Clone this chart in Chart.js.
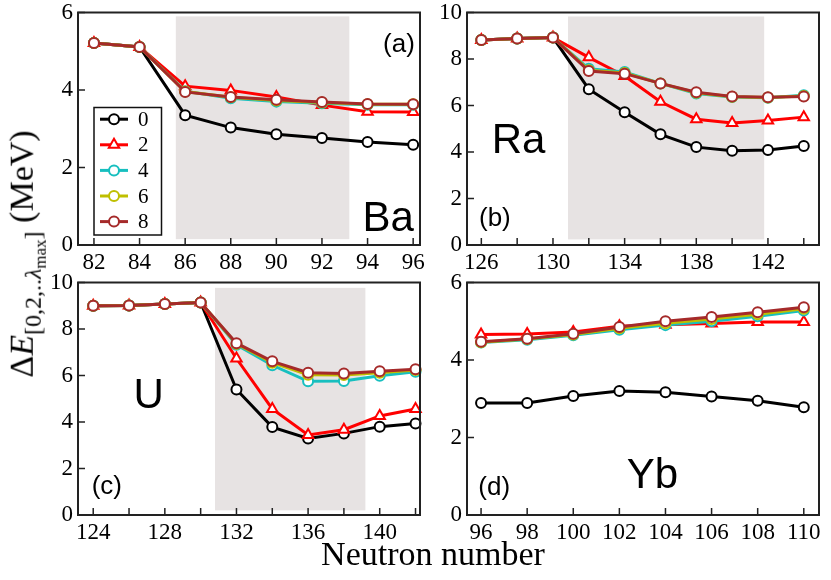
<!DOCTYPE html>
<html><head><meta charset="utf-8">
<script src="https://cdn.jsdelivr.net/npm/chart.js@4"></script>
<style>
body{margin:0;background:#fff;}
#wrap{position:relative;width:831px;height:580px;overflow:hidden;background:#fff;font-family:"Liberation Serif","Times New Roman",serif;color:#000;}
#wrap canvas{position:absolute;}
.ytitle{position:absolute;left:27px;top:254px;transform:translate(-50%,-50%) rotate(-90deg);white-space:nowrap;font-size:34px;line-height:1;}
.ytitle sub{font-size:24px;vertical-align:-0.35em;}
.ytitle sub sub{font-size:17px;vertical-align:-0.3em;}
.xtitle{position:absolute;left:433px;top:535px;transform:translateX(-50%);font-size:34px;white-space:nowrap;line-height:1.1;}
</style></head>
<body><div id="wrap">
<canvas id="cA" width="431" height="279" style="left:0;top:-4px"></canvas>
<canvas id="cB" width="406" height="279" style="left:425px;top:-4px"></canvas>
<canvas id="cC" width="431" height="279" style="left:0;top:266px"></canvas>
<canvas id="cD" width="406" height="279" style="left:425px;top:266px"></canvas>
<div class="ytitle">Δ<i>E</i><sub>[0,2,..<i>λ</i><sub>max</sub>]</sub> (MeV)</div>
<div class="xtitle">Neutron number</div>
</div>
<script>
// ---- legend / series definitions ----
const lamLabels = ['0','2','4','6','8'];
const lamColors = ['#000000','#ff0000','#17bfbf','#bfbf00','#a52a2a'];
const lamStyles = ['circle','triangle','circle','circle','circle'];

// ---- (a) Ba ----
const baN  = [82,84,86,88,90,92,94,96];
const baL0 = [5.21,5.11,3.35,3.03,2.86,2.76,2.66,2.59];
const baL2 = [5.21,5.11,4.10,3.99,3.82,3.61,3.44,3.43];
const baL4 = [5.21,5.11,3.97,3.79,3.70,3.66,3.62,3.62];
const baL6 = [5.21,5.11,3.96,3.81,3.73,3.68,3.63,3.63];
const baL8 = [5.21,5.11,3.95,3.82,3.75,3.69,3.64,3.63];
const baXticks = [82,84,86,88,90,92,94,96];
const baXlabels = [82,84,86,88,90,92,94,96];
const baYticks = [0,2,4,6];
const baXrange = [81.3,96.3], baYrange = [0,6];
const baShade = [85.59,93.2,0.15,5.9];

// ---- (b) Ra ----
const raN  = [126,128,130,132,134,136,138,140,142,144];
const raL0 = [8.82,8.88,8.92,6.70,5.71,4.76,4.21,4.05,4.09,4.26];
const raL2 = [8.82,8.88,8.92,8.07,7.27,6.16,5.41,5.25,5.35,5.50];
const raL4 = [8.82,8.88,8.92,7.58,7.44,6.95,6.52,6.37,6.33,6.44];
const raL6 = [8.82,8.88,8.92,7.52,7.40,6.95,6.55,6.38,6.34,6.41];
const raL8 = [8.82,8.88,8.92,7.48,7.37,6.95,6.57,6.39,6.35,6.39];
const raXticks = [126,128,130,132,134,136,138,140,142,144];
const raXlabels = [126,130,134,138,142];
const raYticks = [0,2,4,6,8,10];
const raXrange = [125.2,144.85], raYrange = [0,10];
const raShade = [130.84,141.79,0.24,9.83];

// ---- (c) U ----
const uN  = [124,126,128,130,132,134,136,138,140,142];
const uL0 = [9.00,9.01,9.08,9.14,5.40,3.78,3.29,3.51,3.80,3.94];
const uL2 = [9.00,9.01,9.08,9.14,6.73,4.56,3.44,3.67,4.26,4.56];
const uL4 = [9.00,9.01,9.08,9.14,7.32,6.44,5.75,5.76,5.99,6.16];
const uL6 = [9.00,9.01,9.08,9.14,7.36,6.55,6.03,6.02,6.12,6.24];
const uL8 = [9.00,9.01,9.08,9.14,7.39,6.61,6.12,6.09,6.18,6.27];
const uXticks = [124,126,128,130,132,134,136,138,140,142];
const uXlabels = [124,128,132,136,140];
const uYticks = [0,2,4,6,8,10];
const uXrange = [123.15,142.25], uYrange = [0,10];
const uShade = [130.8,139.2,0.2,9.77];

// ---- (d) Yb ----
const ybN  = [96,98,100,102,104,106,108,110];
const ybL0 = [2.89,2.89,3.07,3.20,3.17,3.06,2.95,2.78];
const ybL2 = [4.66,4.67,4.72,4.87,4.91,4.94,4.98,4.98];
const ybL4 = [4.45,4.52,4.64,4.78,4.90,5.00,5.13,5.28];
const ybL6 = [4.46,4.54,4.66,4.82,4.95,5.06,5.18,5.32];
const ybL8 = [4.47,4.55,4.68,4.85,5.00,5.11,5.23,5.36];
const ybXticks = [96,98,100,102,104,106,108,110];
const ybXlabels = [96,98,100,102,104,106,108,110];
const ybYticks = [0,2,4,6];
const ybXrange = [95.39,110.66], ybYrange = [0,6];

const SERIF = '"Liberation Serif", "Times New Roman", serif';
const SANS = '"Liberation Sans", Arial, sans-serif';
Chart.defaults.font.family = SERIF;
Chart.defaults.font.size = 23;
Chart.defaults.color = '#000';
const tickFont = {family: SERIF, size: 23, lineHeight: 1};

function makeDatasets(N, ys){
  return ys.map((y,i)=>({
    label: lamLabels[i],
    data: N.map((n,j)=>({x:n, y:y[j]})),
    borderColor: lamColors[i],
    backgroundColor: '#ffffff',
    pointBackgroundColor: '#ffffff',
    pointBorderColor: lamColors[i],
    pointStyle: lamStyles[i],
    pointRadius: lamStyles[i]==='triangle' ? 6 : 5,
    pointBorderWidth: 2,
    borderWidth: 3,
    tension: 0,
    order: 4 - i,
    clip: false
  }));
}

const decoPlugin = {
  id: 'deco',
  beforeDatasetsDraw(chart, args, o){
    const ctx = chart.ctx, xs = chart.scales.x, ys = chart.scales.y;
    if (o.shade){
      const [x1,x2,y1,y2] = o.shade;
      const px1 = xs.getPixelForValue(x1), px2 = xs.getPixelForValue(x2);
      const py1 = ys.getPixelForValue(y1), py2 = ys.getPixelForValue(y2);
      ctx.save(); ctx.fillStyle = '#e7e3e3';
      ctx.fillRect(px1, py2, px2-px1, py1-py2); ctx.restore();
    }
  },
  afterDatasetsDraw(chart, args, o){
    const ctx = chart.ctx, a = chart.chartArea, xs = chart.scales.x, ys = chart.scales.y;
    ctx.save();
    ctx.strokeStyle = '#222'; ctx.lineWidth = 1.5;
    ctx.beginPath();
    o.xticks.forEach(v=>{ const p = xs.getPixelForValue(v); ctx.moveTo(p, a.bottom); ctx.lineTo(p, a.bottom-7); });
    o.yticks.forEach(v=>{ const p = ys.getPixelForValue(v); ctx.moveTo(a.left, p); ctx.lineTo(a.left+7, p); });
    ctx.stroke();
    ctx.lineWidth = 2; ctx.strokeStyle = '#222';
    ctx.strokeRect(a.left, a.top, a.right-a.left, a.bottom-a.top);
    o.texts.forEach(t=>{
      ctx.font = t.size + 'px ' + SANS;
      ctx.fillStyle = '#000'; ctx.textAlign = t.align; ctx.textBaseline = 'alphabetic';
      ctx.fillText(t.t, a.left + t.fx*(a.right-a.left), a.top + t.fy*(a.bottom-a.top));
    });
    if (o.legend){
      const L = o.legend;
      const bx = a.left + L.dx, by = a.top + L.dy;
      ctx.fillStyle = '#fff'; ctx.fillRect(bx, by, L.w, L.h);
      ctx.lineWidth = 1.5; ctx.strokeStyle = '#111'; ctx.strokeRect(bx, by, L.w, L.h);
      chart.data.datasets.forEach((ds,i)=>{
        const cy = by + L.first + i*L.step;
        ctx.strokeStyle = ds.borderColor; ctx.lineWidth = 3;
        ctx.beginPath(); ctx.moveTo(bx+6, cy); ctx.lineTo(bx+34, cy); ctx.stroke();
        ctx.fillStyle = '#fff'; ctx.strokeStyle = ds.borderColor; ctx.lineWidth = 2;
        Chart.helpers.drawPoint(ctx, {pointStyle: ds.pointStyle, radius: ds.pointRadius, borderWidth: 2, rotation: 0}, bx+20, cy);
        ctx.fillStyle = '#000'; ctx.font = '21px ' + SERIF;
        ctx.textAlign = 'left'; ctx.textBaseline = 'middle';
        ctx.fillText(ds.label, bx+44, cy+1);
      });
    }
    ctx.restore();
  }
};

function makeChart(id, N, ys, xr, yr, xticks, xlabels, yticks, yw, rp, deco){
  return new Chart(document.getElementById(id), {
    type: 'line',
    data: { datasets: makeDatasets(N, ys) },
    options: {
      responsive: false, animation: false, devicePixelRatio: 1,
      layout: { padding: {left: 0, top: 14, right: rp, bottom: 0} },
      plugins: { legend: {display:false}, tooltip: {enabled:false}, deco: deco },
      scales: {
        x: {
          type: 'linear', min: xr[0], max: xr[1],
          grid: {display:false, drawTicks:false}, border: {display:false},
          afterBuildTicks: s => { s.ticks = xticks.map(v=>({value:v})); },
          afterFit: s => { s.height = 30; },
          ticks: { autoSkip:false, maxRotation:0, padding: 6, color:'#000', font: tickFont,
                   callback: v => xlabels.includes(v) ? String(v) : '' }
        },
        y: {
          min: yr[0], max: yr[1],
          grid: {display:false, drawTicks:false}, border: {display:false},
          afterBuildTicks: s => { s.ticks = yticks.map(v=>({value:v})); },
          afterFit: s => { s.width = yw; },
          ticks: { padding: 5, color:'#000', font: tickFont, callback: v => String(v) }
        }
      }
    },
    plugins: [decoPlugin]
  });
}

makeChart('cA', baN, [baL0,baL2,baL4,baL6,baL8], baXrange, baYrange, baXticks, baXlabels, baYticks, 78, 11, {
  shade: baShade, xticks: baXticks, yticks: baYticks,
  texts: [{t:'(a)', fx:0.985, fy:0.172, align:'right', size:26},{t:'Ba', fx:0.982, fy:0.94, align:'right', size:42}],
  legend: {dx:16, dy:95, w:67.5, h:127.5, first:11.7, step:25.6}
});
makeChart('cB', raN, [raL0,raL2,raL4,raL6,raL8], raXrange, raYrange, raXticks, raXlabels, raYticks, 42, 12, {
  shade: raShade, xticks: raXticks, yticks: raYticks,
  texts: [{t:'(b)', fx:0.034, fy:0.92, align:'left', size:26},{t:'Ra', fx:0.07, fy:0.603, align:'left', size:42}]
});
makeChart('cC', uN, [uL0,uL2,uL4,uL6,uL8], uXrange, uYrange, uXticks, uXlabels, uYticks, 78, 11, {
  shade: uShade, xticks: uXticks, yticks: uYticks,
  texts: [{t:'(c)', fx:0.04, fy:0.91, align:'left', size:26},{t:'U', fx:0.162, fy:0.539, align:'left', size:42}]
});
makeChart('cD', ybN, [ybL0,ybL2,ybL4,ybL6,ybL8], ybXrange, ybYrange, ybXticks, ybXlabels, ybYticks, 42, 12, {
  shade: null, xticks: ybXticks, yticks: ybYticks,
  texts: [{t:'(d)', fx:0.032, fy:0.915, align:'left', size:26},{t:'Yb', fx:0.454, fy:0.885, align:'left', size:42}]
});
</script>
</body></html>
